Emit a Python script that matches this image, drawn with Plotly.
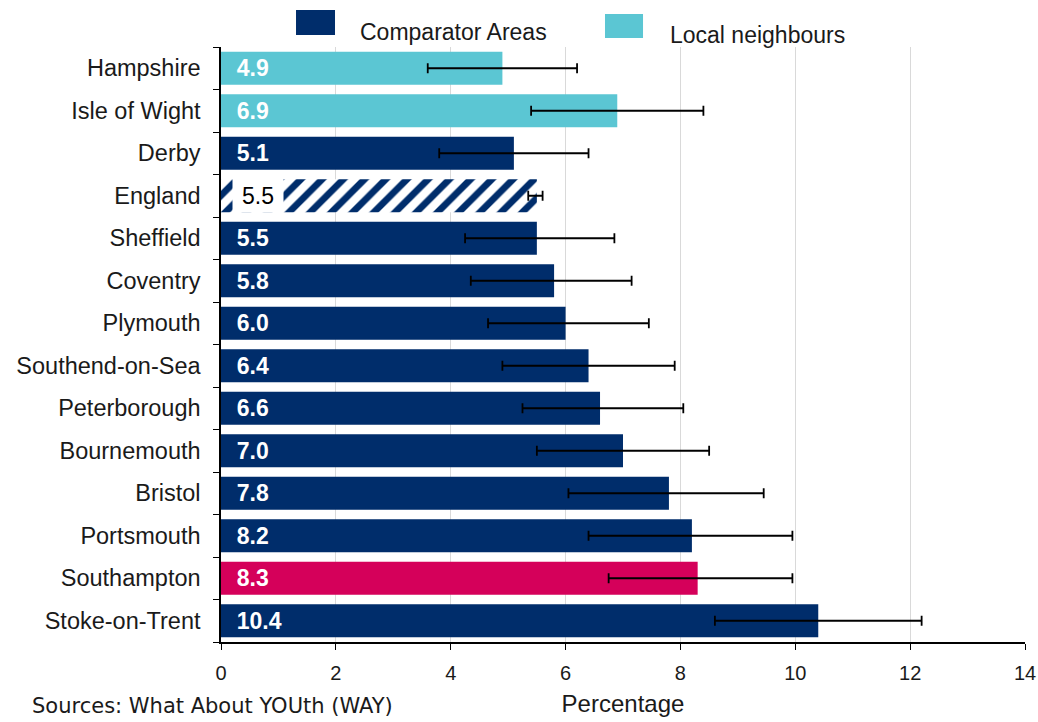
import plotly.graph_objects as go

# ---- data (top = first) ----
areas = ["Hampshire", "Isle of Wight", "Derby", "England", "Sheffield", "Coventry",
         "Plymouth", "Southend-on-Sea", "Peterborough", "Bournemouth", "Bristol",
         "Portsmouth", "Southampton", "Stoke-on-Trent"]
values = [4.9, 6.9, 5.1, 5.5, 5.5, 5.8, 6.0, 6.4, 6.6, 7.0, 7.8, 8.2, 8.3, 10.4]
ci_low = [3.6, 5.4, 3.8, 5.35, 4.25, 4.35, 4.65, 4.9, 5.25, 5.5, 6.05, 6.4, 6.75, 8.6]
ci_high = [6.2, 8.4, 6.4, 5.6, 6.85, 7.15, 7.45, 7.9, 8.05, 8.5, 9.45, 9.95, 9.95, 12.2]
group = ["Local", "Local", "Comparator", "England", "Comparator", "Comparator",
         "Comparator", "Comparator", "Comparator", "Comparator", "Comparator",
         "Comparator", "Southampton", "Comparator"]
x_ticks = [0, 2, 4, 6, 8, 10, 12, 14]

NAVY = "#002D6B"
CYAN = "#5BC6D3"
PINK = "#D5005A"
FONT = "Liberation Sans, Arial, sans-serif"
TXT = "#1a1a1a"

fig = go.Figure()

def add_group(name, color, pattern=None, text_on=True):
    idx = [i for i, g in enumerate(group) if g == name]
    xs = [values[i] for i in idx]
    ys = [areas[i] for i in idx]
    plus = [ci_high[i] - values[i] for i in idx]
    minus = [values[i] - ci_low[i] for i in idx]
    marker = dict(color=color, line=dict(width=0))
    if pattern:
        marker = dict(color="white", line=dict(width=0),
                      pattern=dict(shape="/", fgcolor=NAVY, bgcolor="white",
                                   fgopacity=1, size=15, solidity=0.45))
    fig.add_trace(go.Bar(
        x=xs, y=ys, orientation="h", width=0.78, marker=marker,
        error_x=dict(type="data", symmetric=False, array=plus, arrayminus=minus,
                     color="black", thickness=1.8, width=5),
        text=["\u00a0\u00a0" + f"{v:.1f}" for v in xs] if text_on else None,
        textposition="inside" if text_on else "none",
        insidetextanchor="start", textangle=0,
        textfont=dict(color="white", size=23, family=FONT, weight="bold"),
        showlegend=False, hoverinfo="x+y", cliponaxis=False,
    ))

add_group("Local", CYAN)
add_group("Comparator", NAVY)
add_group("Southampton", PINK)
add_group("England", NAVY, pattern=True, text_on=False)

# England label on white box
e = areas.index("England")
fig.add_annotation(x=0.19, y=areas[e], xref="x", yref="y", xanchor="left",
                   yanchor="middle",
                   text=f"{values[e]:.1f}", showarrow=False, bgcolor="white",
                   width=50, height=33, borderpad=0,
                   font=dict(color="black", size=23, family=FONT))

# custom legend
fig.add_shape(type="rect", xref="paper", yref="paper", x0=0.0933, x1=0.1418,
              y0=1.020, y1=1.062, fillcolor=NAVY, line=dict(width=0))
fig.add_annotation(xref="paper", yref="paper", x=0.1704, y=1.025, xanchor="left",
                   yanchor="middle", text="Comparator Areas", showarrow=False,
                   font=dict(size=23, color=TXT, family=FONT))
fig.add_shape(type="rect", xref="paper", yref="paper", x0=0.4776, x1=0.5249,
              y0=1.015, y1=1.0555, fillcolor=CYAN, line=dict(width=0))
fig.add_annotation(xref="paper", yref="paper", x=0.556, y=1.020, xanchor="left",
                   yanchor="middle", text="Local neighbours", showarrow=False,
                   font=dict(size=23, color=TXT, family=FONT))

# source note
fig.add_annotation(xref="paper", yref="paper", x=-0.237, y=-0.131, xanchor="left",
                   yanchor="bottom", text="Sources: What About YOUth (WAY)",
                   showarrow=False,
                   font=dict(size=21, color=TXT, family="DejaVu Sans, sans-serif"))

fig.update_layout(
    width=1038, height=722,
    margin=dict(l=221, r=13, t=47, b=80),
    plot_bgcolor="white", paper_bgcolor="white",
    barmode="overlay",
    font=dict(family=FONT, color=TXT, size=20),
    xaxis=dict(range=[0, 14], tickvals=x_ticks, showgrid=True, gridcolor="#d9d9d9",
               gridwidth=1, zeroline=False, showline=True, linecolor="black",
               linewidth=1.5, ticks="outside", ticklen=6, tickcolor="black",
               tickfont=dict(size=20), ticklabelstandoff=6,
               title=dict(text="Percentage", font=dict(size=24), standoff=12)),
    yaxis=dict(categoryorder="array", categoryarray=areas[::-1],
               range=[-0.5, 13.5], showline=True, linecolor="black", linewidth=1.5,
               ticks="outside", tickson="boundaries", ticklen=6, tickcolor="black",
               showgrid=False, tickfont=dict(size=23.5), ticklabelstandoff=14,
               automargin=False),
)
fig.update_xaxes(automargin=False)

fig.write_html("out.html", config={"displayModeBar": False},
               post_script="document.body.style.margin='0';")
